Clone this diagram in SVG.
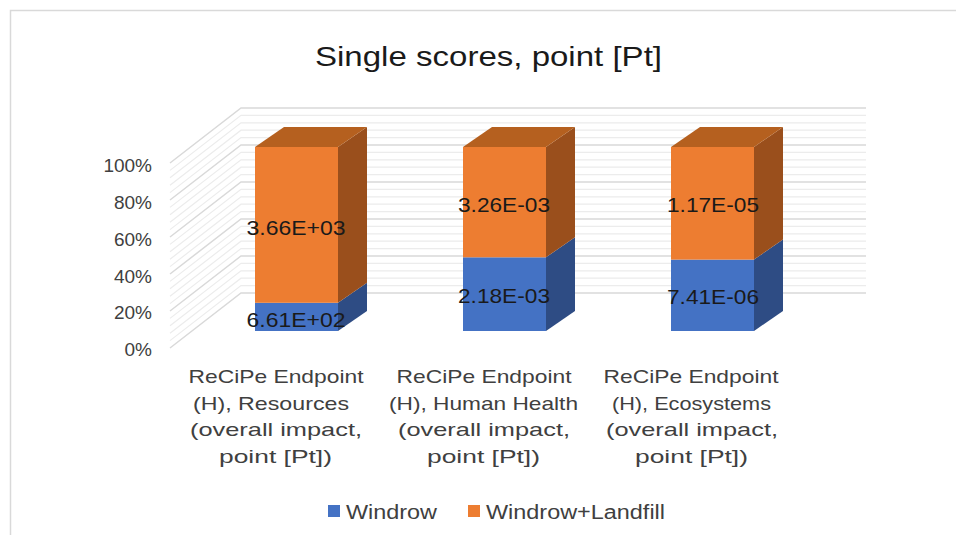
<svg xmlns="http://www.w3.org/2000/svg" width="956" height="535" viewBox="0 0 956 535">
<style>
text{font-family:"Liberation Sans",Arial,sans-serif;fill:#1a1a1a}
.mn{fill:none;stroke:#ececec;stroke-width:1.2}
.mj{fill:none;stroke:#d9d9d9;stroke-width:1.5}
.ax{font-size:19px;fill:#404040;text-anchor:end}
.cat{font-size:19px;fill:#404040;text-anchor:middle}
.dl{font-size:21px;text-anchor:middle}
.lg{font-size:20px;fill:#404040}
.of{fill:#ED7D31}.ot{fill:#B5601F}.os{fill:#9A4F1C}
.bf{fill:#4472C4}.bs{fill:#2E4C84}
</style>
<rect x="0" y="0" width="956" height="535" fill="#ffffff"/>
<path d="M10.5,535 V10.5 H956" fill="none" stroke="#d9d9d9" stroke-width="1.5"/>
<text x="488.5" y="66" font-size="28" text-anchor="middle" fill="#1a1a1a" textLength="347" lengthAdjust="spacingAndGlyphs">Single scores, point [Pt]</text>
<g id="gridlines">
<polyline class="mn" points="170,340.6 241,285.6 866,285.6"/>
<polyline class="mn" points="170,333.2 241,278.2 866,278.2"/>
<polyline class="mn" points="170,325.8 241,270.8 866,270.8"/>
<polyline class="mn" points="170,318.4 241,263.4 866,263.4"/>
<polyline class="mn" points="170,303.6 241,248.6 866,248.6"/>
<polyline class="mn" points="170,296.2 241,241.2 866,241.2"/>
<polyline class="mn" points="170,288.8 241,233.8 866,233.8"/>
<polyline class="mn" points="170,281.4 241,226.4 866,226.4"/>
<polyline class="mn" points="170,266.6 241,211.6 866,211.6"/>
<polyline class="mn" points="170,259.2 241,204.2 866,204.2"/>
<polyline class="mn" points="170,251.8 241,196.8 866,196.8"/>
<polyline class="mn" points="170,244.4 241,189.4 866,189.4"/>
<polyline class="mn" points="170,229.6 241,174.6 866,174.6"/>
<polyline class="mn" points="170,222.2 241,167.2 866,167.2"/>
<polyline class="mn" points="170,214.8 241,159.8 866,159.8"/>
<polyline class="mn" points="170,207.4 241,152.4 866,152.4"/>
<polyline class="mn" points="170,192.6 241,137.6 866,137.6"/>
<polyline class="mn" points="170,185.2 241,130.2 866,130.2"/>
<polyline class="mn" points="170,177.8 241,122.8 866,122.8"/>
<polyline class="mn" points="170,170.4 241,115.4 866,115.4"/>
<polyline class="mj" points="170,348 241,293 866,293"/>
<polyline class="mj" points="170,311 241,256 866,256"/>
<polyline class="mj" points="170,274 241,219 866,219"/>
<polyline class="mj" points="170,237 241,182 866,182"/>
<polyline class="mj" points="170,200 241,145 866,145"/>
<polyline class="mj" points="170,163 241,108 866,108"/>
</g>
<g id="axis-labels">
<text class="ax" x="152" y="171.5">100%</text>
<text class="ax" x="152" y="208.5">80%</text>
<text class="ax" x="152" y="245.5">60%</text>
<text class="ax" x="152" y="282.5">40%</text>
<text class="ax" x="152" y="319">20%</text>
<text class="ax" x="152" y="355.5">0%</text>
</g>
<g id="bar-resources">
<rect class="bf" x="255" y="302.8" width="83" height="28.2"/>
<polygon class="bs" points="338,302.8 367,282.8 367,311 338,331"/>
<rect class="of" x="255" y="147" width="83" height="155.8"/>
<polygon class="os" points="338,147 367,127 367,282.8 338,302.8"/>
<polygon class="ot" points="255,147 284,127 367,127 338,147"/>
<text class="dl" x="296" y="235" textLength="99" lengthAdjust="spacingAndGlyphs">3.66E+03</text>
<text class="dl" x="296" y="327" textLength="99" lengthAdjust="spacingAndGlyphs">6.61E+02</text>
</g>
<g id="bar-human-health">
<rect class="bf" x="463" y="257.3" width="83" height="73.7"/>
<polygon class="bs" points="546,257.3 575,237.3 575,311 546,331"/>
<rect class="of" x="463" y="147" width="83" height="110.3"/>
<polygon class="os" points="546,147 575,127 575,237.3 546,257.3"/>
<polygon class="ot" points="463,147 492,127 575,127 546,147"/>
<text class="dl" x="504" y="212" textLength="92" lengthAdjust="spacingAndGlyphs">3.26E-03</text>
<text class="dl" x="504" y="303" textLength="92" lengthAdjust="spacingAndGlyphs">2.18E-03</text>
</g>
<g id="bar-ecosystems">
<rect class="bf" x="671" y="259.6" width="83" height="71.4"/>
<polygon class="bs" points="754,259.6 783,239.6 783,311 754,331"/>
<rect class="of" x="671" y="147" width="83" height="112.6"/>
<polygon class="os" points="754,147 783,127 783,239.6 754,259.6"/>
<polygon class="ot" points="671,147 700,127 783,127 754,147"/>
<text class="dl" x="713" y="212" textLength="92" lengthAdjust="spacingAndGlyphs">1.17E-05</text>
<text class="dl" x="713" y="304" textLength="92" lengthAdjust="spacingAndGlyphs">7.41E-06</text>
</g>
<g id="category-labels">
<text class="cat" x="276" y="383" textLength="175" lengthAdjust="spacingAndGlyphs">ReCiPe Endpoint</text>
<text class="cat" x="271" y="409.5" textLength="156" lengthAdjust="spacingAndGlyphs">(H), Resources</text>
<text class="cat" x="276" y="436" textLength="172" lengthAdjust="spacingAndGlyphs">(overall impact,</text>
<text class="cat" x="275.5" y="462.5" textLength="113" lengthAdjust="spacingAndGlyphs">point [Pt])</text>
<text class="cat" x="484" y="383" textLength="175" lengthAdjust="spacingAndGlyphs">ReCiPe Endpoint</text>
<text class="cat" x="483.5" y="409.5" textLength="189" lengthAdjust="spacingAndGlyphs">(H), Human Health</text>
<text class="cat" x="484" y="436" textLength="172" lengthAdjust="spacingAndGlyphs">(overall impact,</text>
<text class="cat" x="483.5" y="462.5" textLength="113" lengthAdjust="spacingAndGlyphs">point [Pt])</text>
<text class="cat" x="691" y="383" textLength="175" lengthAdjust="spacingAndGlyphs">ReCiPe Endpoint</text>
<text class="cat" x="691.5" y="409.5" textLength="159" lengthAdjust="spacingAndGlyphs">(H), Ecosystems</text>
<text class="cat" x="692" y="436" textLength="172" lengthAdjust="spacingAndGlyphs">(overall impact,</text>
<text class="cat" x="691.5" y="462.5" textLength="113" lengthAdjust="spacingAndGlyphs">point [Pt])</text>
</g>
<g id="legend">
<rect class="bf" x="328" y="505" width="12" height="12"/>
<text class="lg" x="346" y="519" textLength="91" lengthAdjust="spacingAndGlyphs">Windrow</text>
<rect class="of" x="468" y="505" width="12" height="12"/>
<text class="lg" x="486" y="519" textLength="179" lengthAdjust="spacingAndGlyphs">Windrow+Landfill</text>
</g>
</svg>
